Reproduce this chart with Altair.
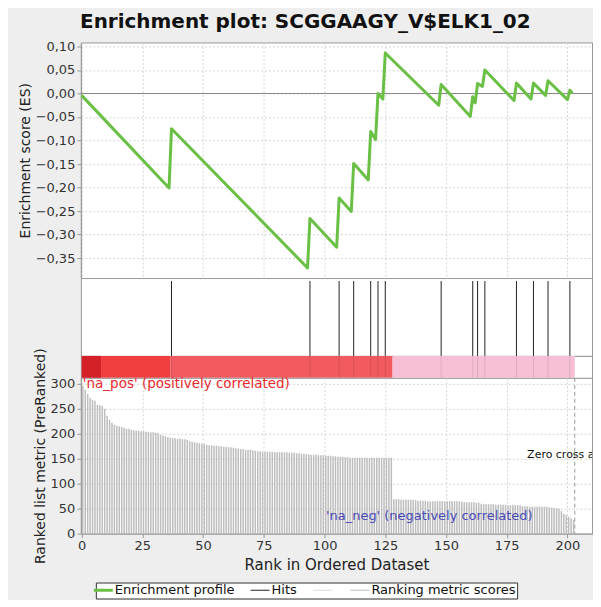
import altair as alt
import pandas as pd

# ---------------- data ----------------
hit_ranks = [37, 94, 106, 112, 119, 122, 125, 148, 161, 163, 166, 179, 186, 192, 201]

es_rank = [0, 36, 37, 93, 94, 105, 106, 111, 112, 118, 119, 121, 122, 124, 125,
           147, 148, 160, 161, 162, 163, 165, 166, 178, 179, 185, 186, 191, 192,
           200, 201, 202]
es_value = [-0.004, -0.201, -0.075, -0.371, -0.266, -0.327, -0.2225, -0.251, -0.149,
            -0.184, -0.081, -0.098, 0.000, -0.012, 0.086, -0.025, 0.019, -0.049,
            -0.007, -0.020, 0.021, 0.015, 0.050, -0.015, 0.022, -0.012, 0.022,
            -0.004, 0.027, -0.013, 0.007, 0.000]

metric = [
    296, 288, 280, 272, 268, 266, 258, 257, 256, 250,
    236, 228, 222, 218, 216, 215, 214, 212, 210, 210,
    208, 207, 206, 206, 205, 205, 204, 204, 203, 203,
    202, 201, 198, 196, 195, 193, 192, 191, 191, 190,
    190, 189, 189, 188, 185, 184, 183, 182, 181, 180,
    180, 178, 177, 177, 176, 176, 175, 175, 174, 174,
    173, 173, 172, 171, 170, 169, 169, 168, 168, 168,
    167, 166, 165, 165, 164, 164, 164, 164, 164, 163,
    163, 163, 163, 163, 163, 162, 162, 162, 161, 161,
    160, 160, 159, 159, 158, 158, 158, 157, 157, 157,
    156, 156, 156, 155, 155, 154, 154, 154, 153, 153,
    152, 152, 152, 152, 152, 152, 152, 152, 152, 152,
    152, 152, 152, 152, 152, 152, 152, 152, 69, 69,
    69, 68, 68, 68, 68, 68, 68, 67, 66, 66,
    66, 66, 65, 65, 65, 65, 65, 65, 65, 65,
    65, 65, 65, 65, 65, 65, 64, 63, 63, 63,
    63, 63, 62, 62, 60, 59, 59, 59, 59, 59,
    58, 58, 58, 58, 58, 57, 57, 57, 57, 57,
    57, 55, 55, 55, 54, 54, 54, 54, 54, 54,
    54, 54, 53, 52, 51, 51, 50, 45, 40, 37,
    34, 31, 27,
]
metric_rank = list(range(len(metric)))

zero_cross = 203

band_start = [0, 8, 36.5, 128]
band_end = [8, 36.5, 128, 203]
band_color = ["#d42027", "#f03e3e", "#f15a5e", "#f6bfd6"]

legend_items = ["Enrichment profile", "Hits", " ", "Ranking metric scores"]
legend_colors = ["#6abf45", "#222222", "#d8d8d8", "#bdbdbd"]

es_ticks = [-0.35, -0.30, -0.25, -0.20, -0.15, -0.10, -0.05, 0.0, 0.05, 0.10]
metric_ticks = [0, 50, 100, 150, 200, 250, 300]
rank_ticks = [0, 25, 50, 75, 100, 125, 150, 175, 200]

title_text = "Enrichment plot: SCGGAAGY_V$ELK1_02"
pos_label = "'na_pos' (positively correlated)"
neg_label = "'na_neg' (negatively correlated)"
zero_label = f"Zero cross at {zero_cross}"

# ---------------- frames ----------------
es_df = pd.DataFrame({"rank": es_rank, "es": es_value, "series": legend_items[0]})
es_zero_df = pd.DataFrame({"es": [0.0]})
hits_df = pd.DataFrame({"rank": hit_ranks, "series": legend_items[1]})
metric_df = pd.DataFrame({"rank": metric_rank, "value": metric, "series": legend_items[3]})
band_df = pd.DataFrame({"start": band_start, "end": band_end, "color": band_color})
zero_df = pd.DataFrame({"xc": [zero_cross]})

W = 512
XDOM = [-0.3, 210.1]
FONT = "DejaVu Sans"
GRID = dict(grid=True, gridDash=[2, 2], gridColor="#d4d4d4")
AX = dict(labelFontSize=13, labelColor="#333", titleColor="#222", titleFontWeight="normal",
          tickColor="#999", domainColor="#999", tickSize=4)

color_scale = alt.Scale(domain=legend_items, range=legend_colors)

legend = alt.Legend(
    orient="none", legendX=15, legendY=541, direction="horizontal", title=None,
    symbolType="stroke", symbolSize=361, labelFontSize=13, labelFont=FONT,
    labelColor="#111", strokeColor="#333", fillColor="white", padding=1,
    columnPadding=14, labelOffset=5,
    symbolStrokeWidth=alt.ExprRef("datum.label === 'Enrichment profile' ? 3 : 1"),
)

x_top = alt.X("rank:Q", scale=alt.Scale(domain=XDOM, nice=False, zero=False),
              axis=alt.Axis(values=rank_ticks, labels=False, title=None, domain=False,
                            tickSize=3, tickColor="#999", **GRID))
y_top = alt.Y("es:Q", scale=alt.Scale(domain=[-0.3925, 0.1085], nice=False, zero=False),
              axis=alt.Axis(values=es_ticks,
                            labelExpr="replace(format(datum.value, '.2f'), '.', ',')",
                            labelOverlap=False, labelFlush=False, labelBound=False,
                            title="Enrichment score (ES)", titleFontSize=14, titlePadding=3,
                            **AX, **GRID))

es_line = alt.Chart(es_df).mark_line(strokeJoin="round", strokeWidth=3).encode(
    x=x_top, y=y_top,
    color=alt.Color("series:N", scale=color_scale, legend=legend),
)
zero_line = alt.Chart(es_zero_df).mark_rule(color="#888", strokeWidth=1).encode(y=y_top)
top = alt.layer(zero_line, es_line).properties(width=W, height=236)

hits = alt.Chart(hits_df).mark_rule(strokeWidth=1).encode(
    x=alt.X("rank:Q", scale=alt.Scale(domain=XDOM, nice=False, zero=False), axis=None),
    y=alt.value(3), y2=alt.value(78),
    color=alt.Color("series:N", scale=color_scale, legend=legend),
).properties(width=W, height=78)

bands = alt.Chart(band_df).mark_rect().encode(
    x=alt.X("start:Q", scale=alt.Scale(domain=XDOM, nice=False, zero=False), axis=None),
    x2="end:Q",
    fill=alt.Fill("color:N", scale=None),
)
band_hits = alt.Chart(hits_df).mark_rule(color="#000", opacity=0.1).encode(
    x=alt.X("rank:Q", scale=alt.Scale(domain=XDOM, nice=False, zero=False), axis=None))
cbar = alt.layer(bands, band_hits).properties(width=W, height=22)

x_bot = alt.X("xc:Q", scale=alt.Scale(domain=XDOM, nice=False, zero=False),
              axis=alt.Axis(values=rank_ticks, title="Rank in Ordered Dataset", titleFontSize=15,
                            labelFlush=False, titlePadding=5, **AX, **GRID))
bars = alt.Chart(metric_df).transform_calculate(xc="datum.rank + 0.5").mark_rule(strokeWidth=1.5).encode(
    x=x_bot,
    y=alt.Y("value:Q", scale=alt.Scale(domain=[0, 312], nice=False),
            axis=alt.Axis(values=metric_ticks, title="Ranked list metric (PreRanked)",
                          titleFontSize=14, titlePadding=3, **AX, **GRID)),
    y2=alt.datum(0),
    color=alt.Color("series:N", scale=color_scale, legend=legend),
)
zc_line = alt.Chart(zero_df).mark_rule(color="#999", strokeDash=[4, 3], strokeWidth=1).encode(x=x_bot)
pos_text = alt.Chart(zero_df).mark_text(text=pos_label, align="left", baseline="middle",
                                        fontSize=13.5, font=FONT, color="#e8282d").encode(
    x=alt.value(2), y=alt.value(6))
neg_text = alt.Chart(zero_df).mark_text(text=neg_label, align="center", baseline="middle",
                                        fontSize=13, font=FONT, color="#4a4ab8").encode(
    x=alt.value(349), y=alt.value(138))
zc_text = alt.Chart(zero_df).mark_text(text=zero_label, align="left", baseline="middle",
                                       fontSize=11, font=FONT, color="#111", clip=True).encode(
    x=alt.value(447), y=alt.value(77))
bottom = alt.layer(bars, zc_line, pos_text, neg_text, zc_text).properties(width=W, height=156)

chart = alt.vconcat(top, hits, cbar, bottom, spacing=0, bounds="flush").resolve_scale(
    color="shared", x="independent", y="independent"
).properties(
    title=alt.TitleParams(title_text, fontSize=20, fontWeight="bold", anchor="middle",
                          frame="bounds", font=FONT, color="#111", offset=8),
    padding={"left": 9, "top": 3, "right": 0, "bottom": 0},
).configure(
    background="#eeeeee", font=FONT,
).configure_view(fill="white", stroke="#9a9a9a")

chart.save("out.html", embed_options={"renderer": "svg", "actions": False})
